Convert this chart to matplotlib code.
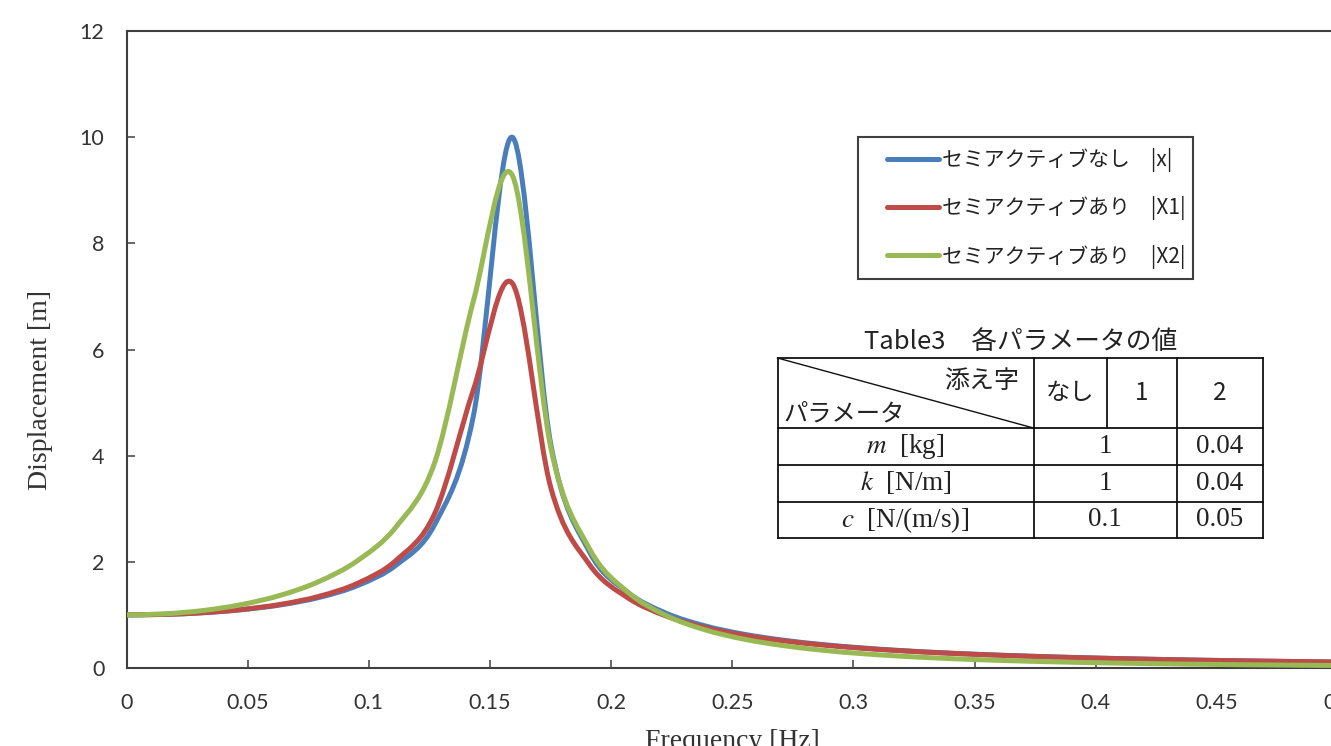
import matplotlib
matplotlib.use("Agg")
import matplotlib.pyplot as plt
from matplotlib.path import Path
from matplotlib.patches import PathPatch, Rectangle
from matplotlib.lines import Line2D

plt.rcParams['font.family'] = ['Lato', 'DejaVu Sans']
plt.rcParams['mathtext.fontset'] = 'stix'

# ---------------- data ----------------
freq = [0.0, 0.0159, 0.0318, 0.0477, 0.0637, 0.0796, 0.0955, 0.1114, 0.1273,
        0.1432, 0.1592, 0.1751, 0.1910, 0.2069, 0.2228, 0.2387, 0.2546, 0.2706,
        0.2865, 0.3024, 0.3183, 0.3342, 0.3501, 0.3661, 0.3820, 0.3979, 0.4138,
        0.4297, 0.4456, 0.4615, 0.4775, 0.4934, 0.5093]

disp_none = [1.0, 1.0100, 1.0414, 1.0983, 1.1891, 1.3304, 1.5557, 1.9426, 2.7116,
             4.7565, 10.0, 4.2183, 2.1926, 1.4242, 1.0308, 0.7943, 0.6377, 0.5270,
             0.4450, 0.3821, 0.3326, 0.2927, 0.2600, 0.2328, 0.2098, 0.1903, 0.1734,
             0.1588, 0.1461, 0.1349, 0.1249, 0.1161, 0.1082]

disp_x1 = [1.0, 1.0105, 1.0432, 1.1031, 1.1995, 1.3516, 1.5988, 2.0330, 2.9199,
           5.2453, 7.2502, 3.3998, 1.9530, 1.3220, 0.9779, 0.7636, 0.6185, 0.5142,
           0.4362, 0.3758, 0.3279, 0.2892, 0.2573, 0.2306, 0.2081, 0.1889, 0.1723,
           0.1579, 0.1453, 0.1342, 0.1244, 0.1156, 0.1078]

disp_x2 = [1.0, 1.0205, 1.0840, 1.1969, 1.3719, 1.6326, 2.0270, 2.6673, 3.8853,
           6.9200, 9.2847, 4.1556, 2.2523, 1.4288, 0.9874, 0.7201, 0.5452, 0.4247,
           0.3383, 0.2744, 0.2261, 0.1888, 0.1594, 0.1360, 0.1170, 0.1014, 0.0886,
           0.0779, 0.0688, 0.0612, 0.0546, 0.0490, 0.0441]

x_ticks = [0, 0.05, 0.1, 0.15, 0.2, 0.25, 0.3, 0.35, 0.4, 0.45, 0.5]
x_tick_labels = ["0", "0.05", "0.1", "0.15", "0.2", "0.25", "0.3", "0.35", "0.4", "0.45", "0.5"]
y_ticks = [0, 2, 4, 6, 8, 10, 12]
y_tick_labels = ["0", "2", "4", "6", "8", "10", "12"]

series_labels = ["セミアクティブなし\u3000|x|", "セミアクティブあり\u3000|X1|", "セミアクティブあり\u3000|X2|"]
series_colors = ["#4A7EBB", "#BE4B48", "#98B954"]

table_title = "Table3\u3000各パラメータの値"
table_corner_top = "添え字"
table_corner_bottom = "パラメータ"
table_header = ["なし", "1", "2"]
table_rows = [r"$m$  [kg]", r"$k$  [N/m]", r"$c$  [N/(m/s)]"]
table_main_values = ["1", "1", "0.1"]
table_sub_values = ["0.04", "0.04", "0.05"]

# ---------------- figure ----------------
W, H = 1331, 746
fig = plt.figure(figsize=(W / 100, H / 100), dpi=100)
fig.patch.set_facecolor('white')


def fx(x):
    return x / W


def fy(y):
    return 1 - y / H


ax_left, ax_right, ax_top, ax_bottom = 126.5, 1338.0, 31.0, 668.0
ax = fig.add_axes([fx(ax_left), fy(ax_bottom), (ax_right - ax_left) / W, (ax_bottom - ax_top) / H])
ax.set_xlim(0, 0.5)
ax.set_ylim(0, 12)


def smooth_path(xs, ys):
    pts = list(zip(xs, ys))
    n = len(pts)
    verts = [pts[0]]
    codes = [Path.MOVETO]
    for i in range(n - 1):
        p0 = pts[i - 1] if i > 0 else pts[i]
        p1 = pts[i]
        p2 = pts[i + 1]
        p3 = pts[i + 2] if i + 2 < n else pts[i + 1]
        c1 = (p1[0] + (p2[0] - p0[0]) / 6, p1[1] + (p2[1] - p0[1]) / 6)
        c2 = (p2[0] - (p3[0] - p1[0]) / 6, p2[1] - (p3[1] - p1[1]) / 6)
        verts += [c1, c2, p2]
        codes += [Path.CURVE4] * 3
    return Path(verts, codes)


LW = 3.6
for ys, col in zip([disp_none, disp_x1, disp_x2], series_colors):
    patch = PathPatch(smooth_path(freq, ys), facecolor='none', edgecolor=col,
                      lw=LW, capstyle='round', joinstyle='round', transform=ax.transData, zorder=3)
    ax.add_patch(patch)

ax.set_xticks(x_ticks)
ax.set_xticklabels(x_tick_labels)
ax.set_yticks(y_ticks)
ax.set_yticklabels(y_tick_labels)
ax.tick_params(axis='both', direction='in', length=5.5, width=1.1, color='#404040',
               labelsize=15.5, labelcolor='#333333')
ax.tick_params(axis='x', pad=18)
ax.tick_params(axis='y', pad=16)
for s in ax.spines.values():
    s.set_color('#404040')
    s.set_linewidth(1.5)

ax.set_xlabel("Frequency [Hz]", fontfamily='Liberation Serif', fontsize=20, color='#333333')
ax.xaxis.set_label_coords(0.5, -(729 - ax_bottom) / (ax_bottom - ax_top))
ax.set_ylabel("Displacement [m]", fontfamily='Liberation Serif', fontsize=20, color='#333333')
ax.yaxis.set_label_coords((53 - ax_left) / (ax_right - ax_left), (ax_bottom - 390) / (ax_bottom - ax_top))

# ---------------- legend ----------------
cjk = ['Noto Sans CJK JP', 'DejaVu Sans']
handles = [Line2D([], [], color=c, lw=LW, solid_capstyle='round') for c in series_colors]
leg = ax.legend(handles, series_labels, loc='upper left',
                bbox_to_anchor=(fx(887), fy(148)), bbox_transform=fig.transFigure,
                frameon=False, borderpad=0, borderaxespad=0, handlelength=2.5, handletextpad=0.12,
                labelspacing=1.17, prop={'family': cjk, 'size': 15})
for t in leg.get_texts():
    t.set_color('#222222')
fig.add_artist(Rectangle((fx(858), fy(279)), (1193 - 858) / W, (279 - 137) / H,
                         transform=fig.transFigure, fill=False, edgecolor='#404040', lw=1.5))

# ---------------- table ----------------
tl, tr = 777.5, 1263.0
col_a, col_b, col_c = 1033.5, 1107.0, 1177.0
r_top, r_head, r1, r2, r_bot = 358.0, 428.0, 464.5, 501.5, 538.0
tcol = '#111111'


def hline(x0, x1, y, lw=1.3):
    fig.add_artist(Line2D([fx(x0), fx(x1)], [fy(y), fy(y)], transform=fig.transFigure, color=tcol, lw=lw))


def vline(x, y0, y1, lw=1.3):
    fig.add_artist(Line2D([fx(x), fx(x)], [fy(y0), fy(y1)], transform=fig.transFigure, color=tcol, lw=lw))


for y in [r_top, r_head, r1, r2, r_bot]:
    hline(tl, tr, y)
vline(tl, r_top, r_bot)
vline(tr, r_top, r_bot)
vline(col_a, r_top, r_bot)
vline(col_c, r_top, r_bot)
vline(col_b, r_top, r_head)
fig.add_artist(Line2D([fx(tl), fx(col_a)], [fy(r_top), fy(r_head)], transform=fig.transFigure,
                      color=tcol, lw=1.0))

fig.text(fx((tl + tr) / 2), fy(342), table_title, ha='center', va='center',
         fontfamily=cjk, fontsize=18.5, color='#222222')
fig.text(fx(1019), fy(381), table_corner_top, ha='right', va='center',
         fontfamily=cjk, fontsize=18, color='#222222')
fig.text(fx(783), fy(413), table_corner_bottom, ha='left', va='center',
         fontfamily=cjk, fontsize=17.5, color='#222222')
head_x = [(col_a + col_b) / 2, (col_b + col_c) / 2, (col_c + tr) / 2]
for x, s in zip(head_x, table_header):
    fig.text(fx(x), fy(393), s, ha='center', va='center', fontfamily=cjk, fontsize=17.5, color='#222222')

row_y = [(r_head + r1) / 2, (r1 + r2) / 2, (r2 + r_bot) / 2]
for y, lab, v1, v2 in zip(row_y, table_rows, table_main_values, table_sub_values):
    fig.text(fx((tl + col_a) / 2), fy(y), lab, ha='center', va='center',
             fontfamily='Liberation Serif', fontsize=19.5, color='#222222')
    fig.text(fx((col_a + col_c) / 2), fy(y), v1, ha='center', va='center',
             fontfamily='Liberation Serif', fontsize=19.5, color='#222222')
    fig.text(fx((col_c + tr) / 2), fy(y), v2, ha='center', va='center',
             fontfamily='Liberation Serif', fontsize=19.5, color='#222222')

fig.savefig("out.png", dpi=100)
